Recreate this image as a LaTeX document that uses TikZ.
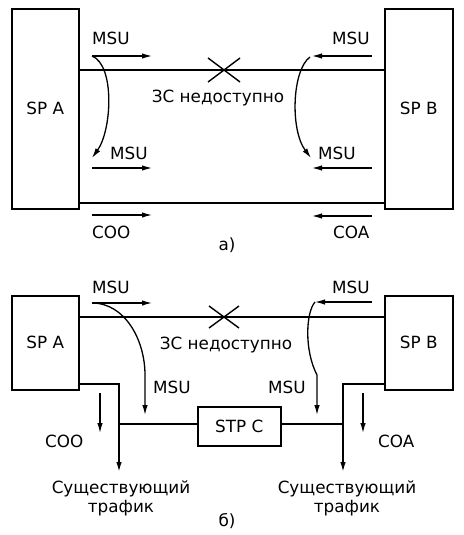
\documentclass[tikz,border=0pt]{standalone}
\usepackage{fontspec}
\setmainfont{DejaVu Sans}
\usetikzlibrary{arrows.meta}
\begin{document}
\begin{tikzpicture}[x=1pt,y=-1pt,
  font=\fontsize{16.8}{19}\selectfont,
  box/.style={draw,line width=1.6pt,inner sep=0pt,anchor=north west},
  link/.style={line width=1.6pt},
  arr/.style={line width=1.3pt,-{Latex[length=10pt,width=5.5pt]}},
  cross/.style={line width=1.4pt},
  lbl/.style={inner sep=0pt,anchor=base west},
  lblc/.style={inner sep=0pt,anchor=base}]
\useasboundingbox (0,0) rectangle (463,535);
% ---------- a) ----------
\node[box,minimum width=67pt,minimum height=200pt] (spa1) at (11,8) {};
\node at (spa1.center) {SP A};
\node[box,minimum width=68pt,minimum height=200pt] (spb1) at (384,8) {};
\node at (spb1.center) {SP B};
\coordinate (x1) at (224,70);
\coordinate (y1) at (224,203);
\draw[link] (spa1.east |- x1) -- (spb1.west |- x1);
\draw[link] (spa1.east |- y1) -- (spb1.west |- y1);
\draw[cross] ([shift={(-16,-12)}]x1) -- ([shift={(16,12)}]x1)
             ([shift={(-16,12)}]x1) -- ([shift={(16,-12)}]x1);
\node[lblc] (zs1) at (218,102) {ЗС недоступно};
% left
\node[lbl] (m1) at (92,45) {MSU};
\coordinate (a1s) at (92,56); \coordinate (a1e) at (152,56);
\draw[arr] (a1s) -- (a1e);
\coordinate (c1e) at (92,158);
\draw[arr] (a1s) .. controls (115,65) and (112,130) .. (c1e);
\node[lbl] (m2) at (110,159) {MSU};
\coordinate (a2s) at (92,168); \coordinate (a2e) at (152,168);
\draw[arr] (a2s) -- (a2e);
\coordinate (a3s) at (92,215); \coordinate (a3e) at (152,215);
\draw[arr] (a3s) -- (a3e);
\node[lbl] (coo1) at (92,238) {COO};
% right
\node[lbl] (m3) at (332,45) {MSU};
\coordinate (b1s) at (372,56); \coordinate (b1e) at (312,56);
\draw[arr] (b1s) -- (b1e);
\coordinate (d1s) at (310,57); \coordinate (d1e) at (311,158);
\draw[arr] (d1s) .. controls (292,70) and (290,130) .. (d1e);
\node[lbl] (m4) at (318,159) {MSU};
\coordinate (b2s) at (372,168); \coordinate (b2e) at (312,168);
\draw[arr] (b2s) -- (b2e);
\coordinate (b3s) at (372,216); \coordinate (b3e) at (312,216);
\draw[arr] (b3s) -- (b3e);
\node[lbl] (coa1) at (333,238) {COA};
\node[lblc] (la) at (227,250) {а)};
% ---------- b) ----------
\node[box,minimum width=67pt,minimum height=94pt] (spa2) at (11,295) {};
\node at (spa2.center) {SP A};
\node[box,minimum width=68pt,minimum height=94pt] (spb2) at (384,295) {};
\node at (spb2.center) {SP B};
\node[box,minimum width=83pt,minimum height=39pt] (stp) at (197,406) {};
\node at (stp.center) {STP C};
\coordinate (x2) at (224,317);
\draw[link] (spa2.east |- x2) -- (spb2.west |- x2);
\draw[cross] ([shift={(-15,-11)}]x2) -- ([shift={(15,11)}]x2)
             ([shift={(-15,11)}]x2) -- ([shift={(15,-11)}]x2);
\node[lblc] (zs2) at (226,349) {ЗС недоступно};
% left branch
\coordinate (la1) at (78,384);
\coordinate (lj) at (119,384);
\coordinate (lk) at (119,424);
\coordinate (lend) at (119,472);
\draw[link] (spa2.east |- la1) -- (lj) -- (lk);
\draw[link] (lk) -- (stp.west |- lk);
\draw[arr,line width=1.6pt] (lk) -- (lend);
% right branch
\coordinate (rj) at (343,384);
\coordinate (rk) at (343,424);
\coordinate (rend) at (343,472);
\draw[link] (spb2.west |- rj) -- (rj) -- (rk);
\draw[link] (rk) -- (stp.east |- rk);
\draw[arr,line width=1.6pt] (rk) -- (rend);
% MSU left
\node[lbl] (m5) at (92,293) {MSU};
\coordinate (e1s) at (92,303); \coordinate (e1e) at (152,303);
\draw[arr] (e1s) -- (e1e);
\coordinate (e2m) at (145,375); \coordinate (e2e) at (145,415);
\draw[arr] (e1s) .. controls (125,303) and (145,340) .. (e2m) -- (e2e);
\node[lbl] (m6) at (153,393) {MSU};
% COO
\coordinate (f1s) at (100,393); \coordinate (f1e) at (100,433);
\draw[arr] (f1s) -- (f1e);
\node[lbl] (coo2) at (45,447) {COO};
% MSU right
\node[lbl] (m7) at (332,293) {MSU};
\coordinate (g1s) at (372,302); \coordinate (g1e) at (315,302);
\draw[arr] (g1s) -- (g1e);
\coordinate (g2m) at (317,375); \coordinate (g2e) at (317,415);
\draw[arr] (g1e) .. controls (306,312) and (304,350) .. (g2m) -- (g2e);
\node[lbl] (m8) at (268,393) {MSU};
% COA
\coordinate (h1s) at (363,393); \coordinate (h1e) at (363,433);
\draw[arr] (h1s) -- (h1e);
\node[lbl] (coa2) at (378,447) {COA};
% existing traffic
\node[lblc] (t1) at (121,493) {Существующий};
\node[lblc] (t2) at (121,512) {трафик};
\node[lblc] (t3) at (347,493) {Существующий};
\node[lblc] (t4) at (347,512) {трафик};
\node[lblc] (lb) at (227,526) {б)};
\end{tikzpicture}
\end{document}
